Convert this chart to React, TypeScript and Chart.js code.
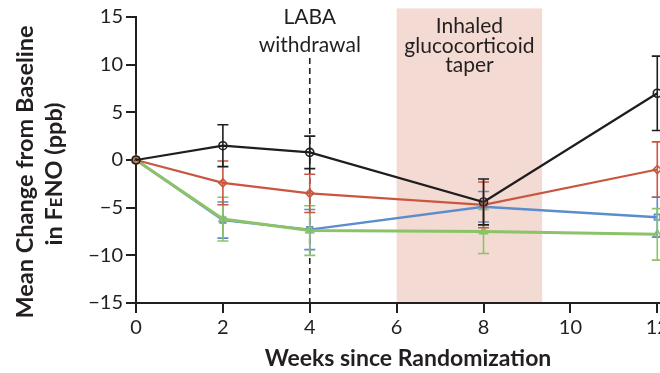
import React, { useEffect, useRef } from "react";
import { Chart, registerables } from "chart.js";

Chart.register(...registerables);

const weeks = [0, 2, 4, 8, 12];
const xTickValues = [0, 2, 4, 6, 8, 10, 12];
const yTickValues = [-15, -10, -5, 0, 5, 10, 15];

const blackMean = [0, 1.5, 0.8, -4.4, 7.0];
const blackErr = [0, 2.2, 1.7, 2.4, 3.9];
const redMean = [0, -2.4, -3.5, -4.7, -1.0];
const redErr = [0, 2.3, 2.0, 2.4, 2.9];
const blueMean = [0, -6.3, -7.3, -4.9, -6.0];
const blueErr = [0, 1.9, 2.1, 1.6, 2.1];
const greenMean = [0, -6.2, -7.4, -7.5, -7.8];
const greenErr = [0, 2.3, 2.6, 2.3, 2.7];

const labaWeek = 4;
const labaLines = ["LABA", "withdrawal"];
const taperStart = 6;
const taperEnd = 9.35;
const taperLines = ["Inhaled", "glucocorticoid", "taper"];
const xTitle = "Weeks since Randomization";
const yTitle1 = "Mean Change from Baseline";

const INK = "#231f20";
const FONT = "Lato, 'Open Sans', sans-serif";

const toPts = (ys: number[]) => ys.map((y, i) => ({ x: weeks[i], y }));

const errMap: Record<string, number[]> = {
  black: blackErr,
  red: redErr,
  blue: blueErr,
  green: greenErr,
};

const overlayPlugin = {
  id: "overlay",
  beforeDatasetsDraw(chart: any) {
    const { ctx, scales, chartArea } = chart;
    const xs = scales.x;
    const ys = scales.y;
    ctx.save();
    const x0 = xs.getPixelForValue(taperStart);
    const x1 = xs.getPixelForValue(taperEnd);
    const top = ys.getPixelForValue(15.9);
    ctx.fillStyle = "#f3dad2";
    ctx.fillRect(x0, top, x1 - x0, chartArea.bottom - 1 - top);
    const lx = xs.getPixelForValue(labaWeek);
    ctx.strokeStyle = INK;
    ctx.lineWidth = 1.6;
    ctx.setLineDash([6, 4]);
    ctx.beginPath();
    ctx.moveTo(lx, ys.getPixelForValue(10.7));
    ctx.lineTo(lx, chartArea.bottom);
    ctx.stroke();
    ctx.setLineDash([]);
    ctx.restore();
  },
  afterDatasetsDraw(chart: any) {
    const { ctx, scales } = chart;
    const ys = scales.y;
    ctx.save();
    const n = chart.data.datasets.length;
    for (let di = n - 1; di >= 0; di--) {
      const ds: any = chart.data.datasets[di];
      const meta = chart.getDatasetMeta(di);
      const errs = errMap[ds.key];
      ctx.strokeStyle = ds.borderColor;
      ctx.lineWidth = 1.6;
      meta.data.forEach((el: any, j: number) => {
        const e = errs[j];
        if (!e) return;
        const v = ds.data[j].y;
        const yt = ys.getPixelForValue(v + e);
        const yb = ys.getPixelForValue(v - e);
        const x = el.x;
        ctx.beginPath();
        ctx.moveTo(x, yt);
        ctx.lineTo(x, yb);
        ctx.moveTo(x - 5.5, yt);
        ctx.lineTo(x + 5.5, yt);
        ctx.moveTo(x - 5.5, yb);
        ctx.lineTo(x + 5.5, yb);
        ctx.stroke();
      });
    }
    ctx.restore();
  },
  afterDraw(chart: any) {
    const { ctx, scales } = chart;
    const xs = scales.x;
    ctx.save();
    ctx.fillStyle = INK;
    ctx.textAlign = "center";
    ctx.textBaseline = "alphabetic";
    ctx.font = `21px ${FONT}`;
    const lx = xs.getPixelForValue(labaWeek);
    ctx.fillText(labaLines[0], lx, 24);
    ctx.fillText(labaLines[1], lx, 52);
    const tx = (xs.getPixelForValue(taperStart) + xs.getPixelForValue(taperEnd)) / 2;
    ctx.fillText(taperLines[0], tx, 33);
    ctx.fillText(taperLines[1], tx, 53);
    ctx.fillText(taperLines[2], tx, 72);

    ctx.font = `bold 23px ${FONT}`;
    ctx.fillText(xTitle, 408, 366);

    ctx.save();
    ctx.translate(33, 172);
    ctx.rotate(-Math.PI / 2);
    ctx.font = `bold 23.5px ${FONT}`;
    ctx.textAlign = "center";
    ctx.fillText(yTitle1, 0, 0);
    ctx.restore();

    ctx.save();
    ctx.translate(62, 174);
    ctx.rotate(-Math.PI / 2);
    const big = `bold 23.5px ${FONT}`;
    const small = `bold 17px ${FONT}`;
    const parts: [string, string][] = [
      ["in F", big],
      ["E", small],
      ["NO (ppb)", big],
    ];
    let total = 0;
    parts.forEach(([t, f]) => {
      ctx.font = f;
      total += ctx.measureText(t).width;
    });
    let cx = -total / 2;
    ctx.textAlign = "left";
    parts.forEach(([t, f]) => {
      ctx.font = f;
      ctx.fillText(t, cx, 0);
      cx += ctx.measureText(t).width;
    });
    ctx.restore();
    ctx.restore();
  },
};

export default function App() {
  const ref = useRef<HTMLCanvasElement | null>(null);
  useEffect(() => {
    if (!ref.current) return;
    const mk = (key: string, label: string, data: number[], color: string, style: string, width: number) => ({
      key,
      label,
      data: toPts(data),
      borderColor: color,
      backgroundColor: "rgba(0,0,0,0)",
      borderWidth: width,
      pointStyle: style,
      pointRadius: style === "triangle" ? 4.5 : 4,
      pointBorderWidth: 1.6,
      pointBorderColor: color,
      pointBackgroundColor: "rgba(0,0,0,0)",
      tension: 0,
      clip: false,
    });
    const chart = new Chart(ref.current, {
      type: "line",
      data: {
        datasets: [
          mk("black", "Black", blackMean, "#1e1e1e", "circle", 2.2),
          mk("red", "Red", redMean, "#c9573f", "rectRot", 2.2),
          mk("green", "Green", greenMean, "#8cc268", "triangle", 3),
          mk("blue", "Blue", blueMean, "#5b8ccc", "rect", 2.4),
        ] as any,
      },
      options: {
        animation: false,
        responsive: false,
        events: [],
        layout: { padding: { top: 17, right: 41, left: 0, bottom: 0 } },
        plugins: { legend: { display: false }, tooltip: { enabled: false } },
        scales: {
          x: {
            type: "linear",
            min: 0,
            max: 12.5,
            afterBuildTicks: (s: any) => {
              s.ticks = xTickValues.map((v) => ({ value: v }));
            },
            afterFit: (s: any) => {
              s.height = 70;
            },
            ticks: {
              color: INK,
              font: { family: FONT, size: 20 },
              padding: 3,
              maxRotation: 0,
              callback: (v: any) => String(v),
            },
            grid: { drawOnChartArea: false, drawTicks: true, tickLength: 10, color: INK, lineWidth: 2 },
            border: { display: true, color: INK, width: 2 },
          },
          y: {
            type: "linear",
            min: -15,
            max: 15,
            afterBuildTicks: (s: any) => {
              s.ticks = yTickValues.map((v) => ({ value: v }));
            },
            afterFit: (s: any) => {
              s.width = 136;
            },
            ticks: {
              color: INK,
              font: { family: FONT, size: 20 },
              padding: 3,
              callback: (v: any) => String(v).replace("-", "\u2212"),
            },
            grid: { drawOnChartArea: false, drawTicks: true, tickLength: 10, color: INK, lineWidth: 2 },
            border: { display: true, color: INK, width: 2 },
          },
        },
      },
      plugins: [overlayPlugin],
    });
    return () => chart.destroy();
  }, []);
  return (
    <div
      style={{
        position: "fixed",
        left: 0,
        top: 0,
        width: 660,
        height: 373,
        overflow: "hidden",
        background: "#fff",
      }}
    >
      <canvas ref={ref} width={720} height={373} style={{ display: "block" }} />
    </div>
  );
}
